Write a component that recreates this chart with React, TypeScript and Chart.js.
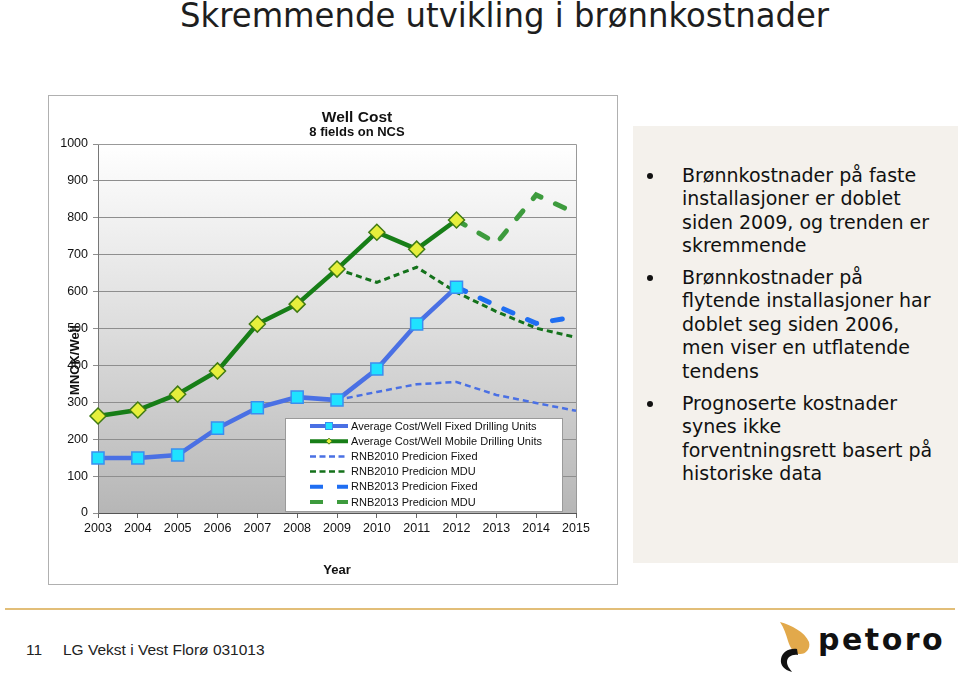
import { useEffect, useRef } from 'react';
import { Chart, registerables } from 'chart.js';
Chart.register(...registerables);

const years = ['2003', '2004', '2005', '2006', '2007', '2008', '2009', '2010', '2011', '2012', '2013', '2014', '2015'];
const fixedActual = [149, 149, 157, 230, 285, 314, 306, 390, 512, 612, null, null, null];
const mobileActual = [263, 279, 322, 385, 512, 566, 661, 761, 715, 794, null, null, null];
const rnb2010Fixed = [null, null, null, null, null, null, 306, 328, 349, 355, 320, 298, 277];
const rnb2010Mdu = [null, null, null, null, null, null, 661, 625, 666, 598, 546, 501, 476];
const rnb2013Fixed = [null, null, null, null, null, null, null, null, null, 612, 562, 514, 532];
const rnb2013Mdu = [null, null, null, null, null, null, null, null, null, 794, 731, 862, 812];
const seriesLabels = [
  'Average Cost/Well Fixed Drilling Units',
  'Average Cost/Well Mobile Drilling Units',
  'RNB2010 Predicion Fixed',
  'RNB2010 Predicion MDU',
  'RNB2013 Predicion Fixed',
  'RNB2013 Predicion MDU',
];
const yMin = 0;
const yMax = 1000;
const yStep = 100;

const FONT = '"Liberation Sans", Arial, sans-serif';

const bgPlugin = {
  id: 'plotBg',
  beforeDraw(chart: any) {
    const { ctx, chartArea: a } = chart;
    ctx.save();
    const g = ctx.createLinearGradient(0, a.top, 0, a.bottom);
    g.addColorStop(0, '#ffffff');
    g.addColorStop(0.5, '#dddddd');
    g.addColorStop(1, '#b6b6b6');
    ctx.fillStyle = g;
    ctx.fillRect(a.left, a.top, a.right - a.left, a.bottom - a.top);
    ctx.restore();
  },
  beforeDatasetsDraw(chart: any) {
    const { ctx, chartArea: a } = chart;
    ctx.save();
    ctx.strokeStyle = '#999999';
    ctx.lineWidth = 1;
    ctx.beginPath();
    ctx.moveTo(a.left, a.top + 0.5);
    ctx.lineTo(a.right + 0.5, a.top + 0.5);
    ctx.lineTo(a.right + 0.5, a.bottom);
    ctx.stroke();
    ctx.restore();
  },
};

const yTitlePlugin = {
  id: 'yTitle',
  afterDraw(chart: any) {
    const { ctx, chartArea: a } = chart;
    ctx.save();
    ctx.translate(a.left - 23, a.top + 216);
    ctx.rotate(-Math.PI / 2);
    ctx.font = `bold 13px ${FONT}`;
    ctx.fillStyle = '#111111';
    ctx.textAlign = 'center';
    ctx.textBaseline = 'middle';
    ctx.fillText('MNOK/Well', 0, 0);
    ctx.restore();
  },
};

const legendPlugin = {
  id: 'insideLegend',
  afterDraw(chart: any) {
    const { ctx, chartArea: a } = chart;
    const w = 278;
    const h = 94;
    const x0 = Math.round(a.right - 13 - w);
    const y0 = Math.round(a.bottom - 1 - h);
    ctx.save();
    ctx.fillStyle = '#ffffff';
    ctx.fillRect(x0, y0, w, h);
    ctx.strokeStyle = '#9a9a9a';
    ctx.lineWidth = 1;
    ctx.strokeRect(x0 + 0.5, y0 + 0.5, w - 1, h - 1);
    ctx.font = `11px ${FONT}`;
    ctx.textBaseline = 'middle';
    ctx.textAlign = 'left';
    chart.data.datasets.forEach((ds: any, i: number) => {
      const cy = y0 + 8 + i * 15.2;
      ctx.beginPath();
      ctx.setLineDash(ds.legendDash || []);
      ctx.lineCap = 'butt';
      ctx.lineWidth = ds.legendWidth;
      ctx.strokeStyle = ds.borderColor;
      ctx.moveTo(x0 + 25, cy);
      ctx.lineTo(x0 + 63, cy);
      ctx.stroke();
      ctx.setLineDash([]);
      const mx = x0 + 44;
      if (ds.pointStyle === 'rect') {
        ctx.fillStyle = ds.pointBackgroundColor;
        ctx.strokeStyle = ds.pointBorderColor;
        ctx.lineWidth = 1;
        ctx.fillRect(mx - 3.5, cy - 3.5, 7, 7);
        ctx.strokeRect(mx - 3.5, cy - 3.5, 7, 7);
      } else if (ds.pointStyle === 'rectRot') {
        ctx.beginPath();
        ctx.moveTo(mx - 3, cy);
        ctx.lineTo(mx, cy - 3);
        ctx.lineTo(mx + 3, cy);
        ctx.lineTo(mx, cy + 3);
        ctx.closePath();
        ctx.fillStyle = ds.pointBackgroundColor;
        ctx.fill();
        ctx.strokeStyle = ds.pointBorderColor;
        ctx.lineWidth = 1;
        ctx.stroke();
      }
      ctx.fillStyle = '#111111';
      ctx.fillText(ds.label, x0 + 66, cy + 0.5);
    });
    ctx.restore();
  },
};

function WellCostChart() {
  const ref = useRef<HTMLCanvasElement | null>(null);
  useEffect(() => {
    if (!ref.current) return;
    const chart = new Chart(ref.current, {
      type: 'line',
      data: {
        labels: years,
        datasets: [
          {
            label: seriesLabels[0],
            data: fixedActual,
            borderColor: '#4a70e4',
            borderWidth: 4.5,
            pointStyle: 'rect',
            pointRadius: 8.5,
            pointHoverRadius: 8.5,
            pointBackgroundColor: '#1fe2ff',
            pointBorderColor: '#3a8ef0',
            pointBorderWidth: 1.5,
            legendWidth: 4,
            clip: false,
          } as any,
          {
            label: seriesLabels[1],
            data: mobileActual,
            borderColor: '#177e17',
            borderWidth: 4.5,
            pointStyle: 'rectRot',
            pointRadius: 8,
            pointHoverRadius: 8,
            pointBackgroundColor: '#e6ef3c',
            pointBorderColor: '#3f7a12',
            pointBorderWidth: 1.5,
            legendWidth: 4,
            clip: false,
          },
          {
            label: seriesLabels[2],
            data: rnb2010Fixed,
            borderColor: '#4a70e4',
            borderWidth: 2.5,
            borderDash: [6, 4],
            pointRadius: 0,
            pointHoverRadius: 0,
            legendWidth: 2.5,
            legendDash: [6, 3.5],
            clip: false,
          },
          {
            label: seriesLabels[3],
            data: rnb2010Mdu,
            borderColor: '#14721b',
            borderWidth: 3,
            borderDash: [6, 4],
            pointRadius: 0,
            pointHoverRadius: 0,
            legendWidth: 2.5,
            legendDash: [6, 3.5],
            clip: false,
          },
          {
            label: seriesLabels[4],
            data: rnb2013Fixed,
            borderColor: '#1f6ef2',
            borderWidth: 5,
            borderDash: [10, 16],
            borderCapStyle: 'round',
            pointRadius: 0,
            pointHoverRadius: 0,
            legendWidth: 4,
            legendDash: [13, 14],
            clip: false,
          },
          {
            label: seriesLabels[5],
            data: rnb2013Mdu,
            borderColor: '#3d9b3d',
            borderWidth: 5,
            borderDash: [10, 16],
            borderCapStyle: 'round',
            pointRadius: 0,
            pointHoverRadius: 0,
            legendWidth: 4,
            legendDash: [13, 14],
            clip: false,
          },
        ] as any,
      },
      options: {
        responsive: false,
        animation: false,
        events: [],
        layout: { padding: { left: 0, right: 0, top: 0, bottom: 0 } },
        font: { family: FONT },
        plugins: {
          legend: { display: false },
          tooltip: { enabled: false },
          title: {
            display: true,
            text: 'Well Cost',
            color: '#111111',
            font: { family: FONT, size: 15.5, weight: 'bold', lineHeight: 1 },
            padding: { top: 15, bottom: 0 },
          },
          subtitle: {
            display: true,
            text: '8 fields on NCS',
            color: '#111111',
            font: { family: FONT, size: 13, weight: 'bold', lineHeight: 1 },
            padding: { top: 0, bottom: 5.5 },
          },
        },
        scales: {
          x: {
            type: 'category',
            offset: false,
            grid: {
              display: true,
              drawOnChartArea: false,
              drawTicks: true,
              tickLength: 5,
              color: '#666666',
            },
            border: { display: true, color: '#555555', width: 1 },
            ticks: {
              color: '#111111',
              font: { family: FONT, size: 12.5 },
              padding: 3,
              maxRotation: 0,
              autoSkip: false,
            },
            title: {
              display: true,
              text: 'Year',
              color: '#111111',
              font: { family: FONT, size: 13, weight: 'bold', lineHeight: 1.2 },
              padding: { top: 0, bottom: 7 },
            },
            afterFit(scale: any) {
              scale.height = 72;
            },
          },
          y: {
            min: yMin,
            max: yMax,
            grid: {
              color: '#8e8e8e',
              lineWidth: 1,
              tickLength: 5,
              drawTicks: true,
            },
            border: { display: true, color: '#777777', width: 1 },
            ticks: {
              stepSize: yStep,
              color: '#111111',
              font: { family: FONT, size: 12.5 },
              padding: 5,
              callback: (v: any) => String(v),
            },
            afterFit(scale: any) {
              scale.width = 50;
            },
          },
          ySpacer: {
            position: 'right',
            display: true,
            grid: { display: false, drawOnChartArea: false },
            border: { display: false },
            ticks: { display: false },
            afterFit(scale: any) {
              scale.width = 90;
            },
          },
        },
      } as any,
      plugins: [bgPlugin, yTitlePlugin, legendPlugin],
    });
    return () => chart.destroy();
  }, []);
  return (
    <canvas
      ref={ref}
      width={618}
      height={490}
      style={{ position: 'absolute', left: 48, top: 95, width: 618, height: 490 }}
    />
  );
}

const bullets: string[][] = [
  ['Brønnkostnader på faste', 'installasjoner er doblet', 'siden 2009, og trenden er', 'skremmende'],
  ['Brønnkostnader på', 'flytende installasjoner har', 'doblet seg siden 2006,', 'men viser en utflatende', 'tendens'],
  ['Prognoserte kostnader', 'synes ikke', 'forventningsrett basert på', 'historiske data'],
];

export default function App() {
  return (
    <div
      style={{
        position: 'fixed',
        left: 0,
        top: 0,
        width: 960,
        height: 674,
        background: '#ffffff',
        overflow: 'hidden',
      }}
    >
      <div
        style={{
          position: 'absolute',
          left: 180,
          top: -2,
          fontFamily: '"DejaVu Sans", Verdana, sans-serif',
          fontSize: 34,
          lineHeight: '34px',
          color: '#1e1e1e',
          whiteSpace: 'nowrap',
          transform: 'scaleX(0.95)',
          transformOrigin: 'left top',
        }}
      >
        Skremmende utvikling i brønnkostnader
      </div>

      <div
        style={{
          position: 'absolute',
          left: 48,
          top: 95,
          width: 570,
          height: 490,
          boxSizing: 'border-box',
          border: '1px solid #b0b0b0',
          background: '#ffffff',
        }}
      />

      <div
        style={{
          position: 'absolute',
          left: 633,
          top: 126,
          width: 325,
          height: 437,
          background: '#f4f1ec',
        }}
      />
      <WellCostChart />

      {bullets.map((lines, gi) => {
        const tops = [164, 266, 392];
        return (
          <div
            key={gi}
            style={{
              position: 'absolute',
              left: 682,
              top: tops[gi],
              fontFamily: '"DejaVu Sans", Verdana, sans-serif',
              fontSize: 19,
              lineHeight: '23.4px',
              color: '#111111',
              whiteSpace: 'nowrap',
            }}
          >
            <div
              style={{
                position: 'absolute',
                left: -35,
                top: 9,
                width: 6,
                height: 6,
                borderRadius: 3,
                background: '#111111',
              }}
            />
            {lines.map((l, li) => (
              <div key={li}>{l}</div>
            ))}
          </div>
        );
      })}

      <div
        style={{
          position: 'absolute',
          left: 5,
          top: 608,
          width: 950,
          height: 2,
          background: '#e2be78',
        }}
      />
      <div
        style={{
          position: 'absolute',
          left: 26,
          top: 641,
          fontFamily: '"Liberation Sans", Arial, sans-serif',
          fontSize: 15.5,
          lineHeight: '18px',
          color: '#222222',
          whiteSpace: 'nowrap',
        }}
      >
        11
      </div>
      <div
        style={{
          position: 'absolute',
          left: 63,
          top: 641,
          fontFamily: '"Liberation Sans", Arial, sans-serif',
          fontSize: 15.5,
          lineHeight: '18px',
          color: '#222222',
          whiteSpace: 'nowrap',
        }}
      >
        LG Vekst i Vest Florø 031013
      </div>

      <svg
        style={{ position: 'absolute', left: 770, top: 612 }}
        width={50}
        height={62}
        viewBox="770 612 50 62"
      >
        <path
          d="M780,622 C791,625 805,632 809,642 C811,649 805,655 799,654 C793,653 790,647 788,641 C786,634 784,628 780,622 Z"
          fill="#e2a94b"
        />
        <path
          d="M798,655 C792,654 787,657 787,662 C787,666 790,669 792,672 C784,670 780,665 781,659 C782,652 789,648 797,649 Z"
          fill="#111111"
        />
      </svg>
      <div
        style={{
          position: 'absolute',
          left: 818,
          top: 625,
          fontFamily: '"DejaVu Sans", Verdana, sans-serif',
          fontWeight: 'bold',
          fontSize: 30,
          lineHeight: '30px',
          letterSpacing: 2.5,
          color: '#111111',
          whiteSpace: 'nowrap',
        }}
      >
        petoro
      </div>
    </div>
  );
}
